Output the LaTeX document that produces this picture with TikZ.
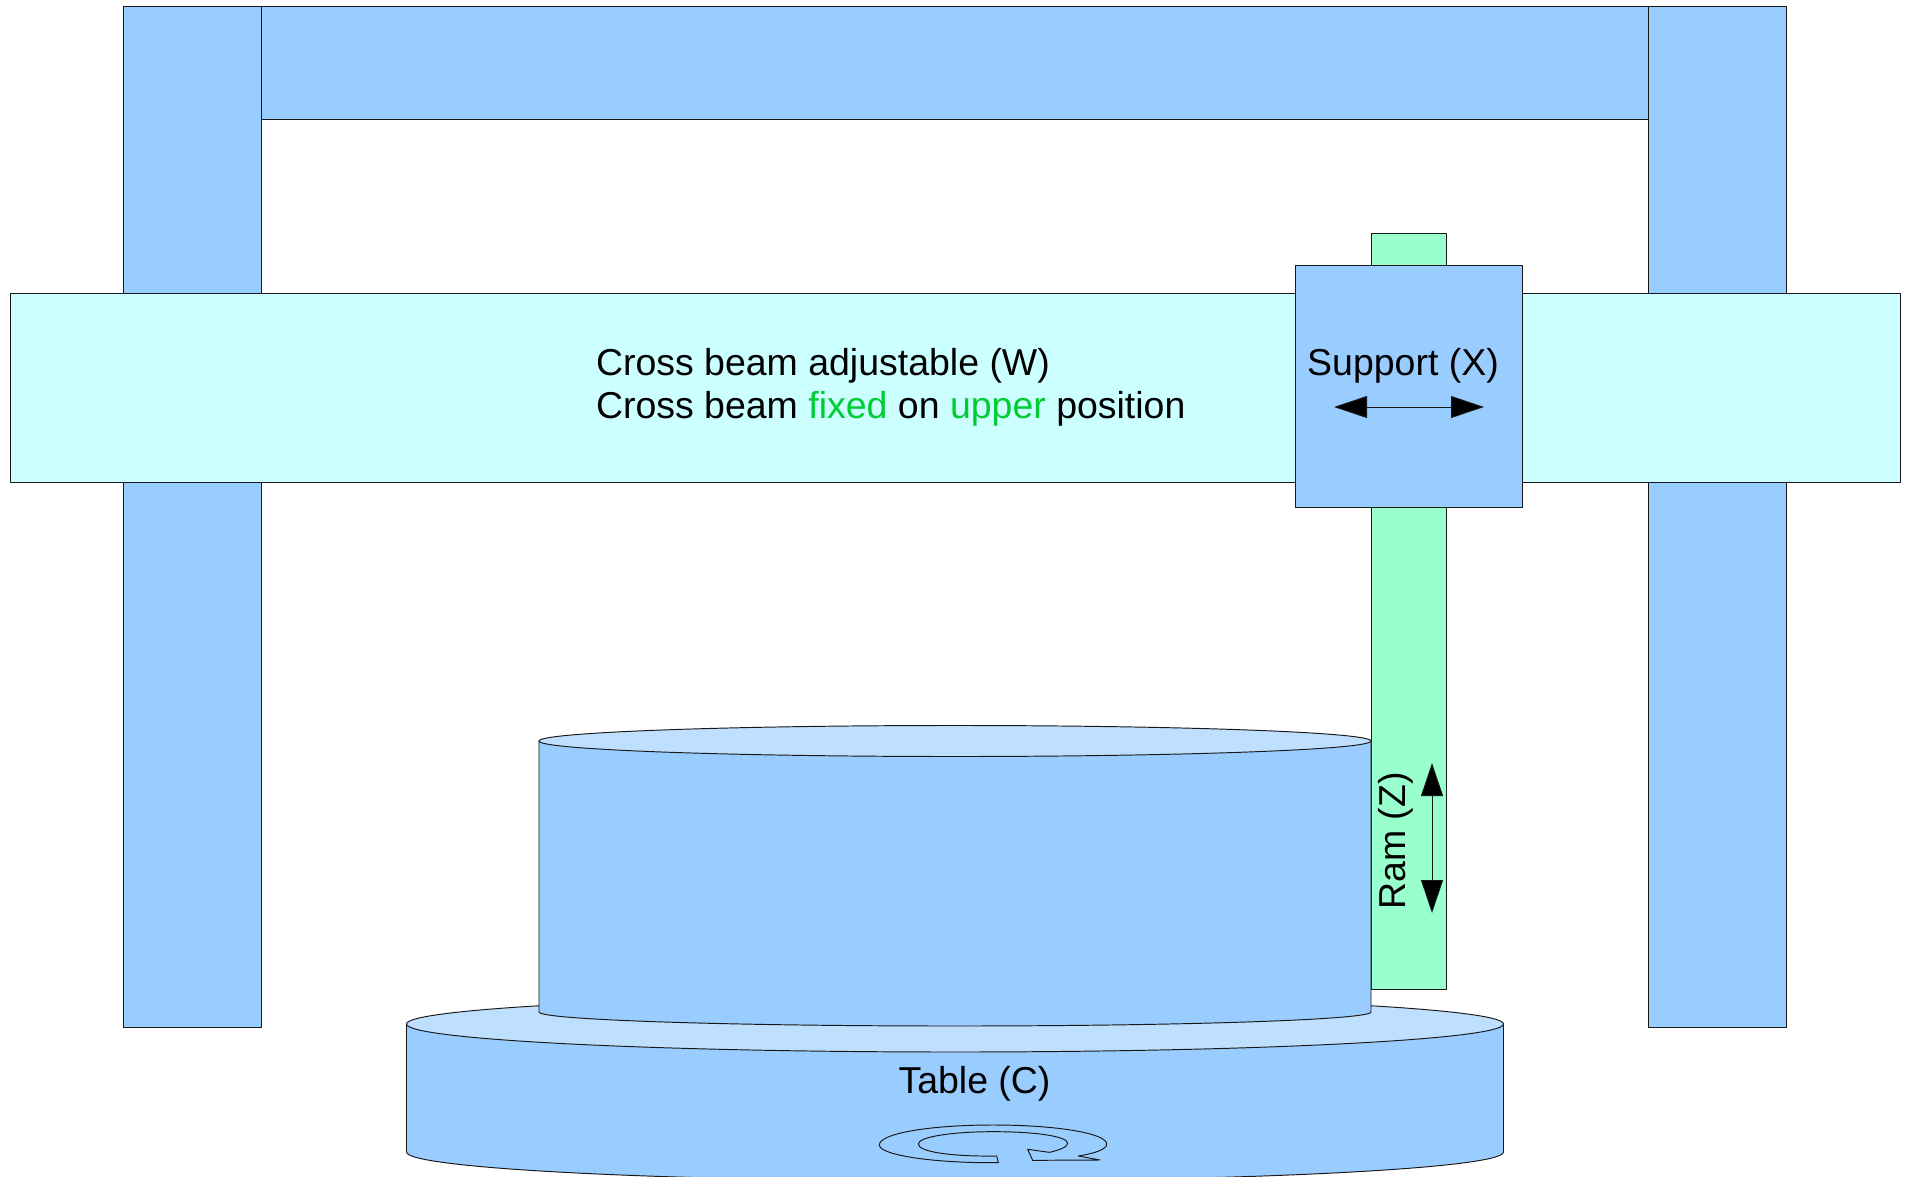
\documentclass[tikz,border=0pt]{standalone}
\usepackage{fontspec}
\setmainfont{Liberation Sans}
\usetikzlibrary{arrows.meta}
\definecolor{partblue}{HTML}{99CCFF}
\definecolor{lightblue}{HTML}{BFDFFF}
\definecolor{beamcyan}{HTML}{CCFFFF}
\definecolor{ramgreen}{HTML}{99FFCC}
\definecolor{wordgreen}{HTML}{00CC33}
\definecolor{edge}{HTML}{181818}
\tikzset{
  part/.style={draw=edge,line width=0.72pt,line join=round},
  label/.style={font=\fontsize{28.1}{32}\selectfont,text=black,inner sep=0pt,outer sep=0pt},
  motion/.style={draw=edge,line width=0.72pt,{Triangle[length=24.75pt,width=16.5pt,fill=black]}-{Triangle[length=24.75pt,width=16.5pt,fill=black]},shorten <=0pt,shorten >=0pt}
}
\begin{document}
\begin{tikzpicture}[x=0.75pt,y=-0.75pt]
\useasboundingbox (0,0) rectangle (1907,1177);
\clip (0,0) rectangle (1907,1177);
% columns and top beam
\draw[part,fill=partblue] (123,6) rectangle (261.5,1027.5);
\draw[part,fill=partblue] (1648,6) rectangle (1786.5,1027.5);
\draw[part,fill=partblue] (261.5,6) rectangle (1648,119);
% cross beam
\draw[part,fill=beamcyan] (10,293) rectangle (1900,482.5);
% ram and support
\draw[part,fill=ramgreen] (1371,233) rectangle (1446,989);
\draw[part,fill=partblue] (1295,265) rectangle (1522,507);
% table
\draw[part,fill=partblue] (406.5,1024) -- (406.5,1152)
  arc[start angle=180,end angle=0,x radius=548.5,y radius=29] -- (1503.5,1024) -- cycle;
\draw[part,fill=lightblue] (955,1024) ellipse[x radius=548.5,y radius=28];
% workpiece
\draw[part,fill=partblue] (539,741) -- (539,1012)
  arc[start angle=180,end angle=0,x radius=416,y radius=14] -- (1371,741) -- cycle;
\draw[part,fill=lightblue] (955,741) ellipse[x radius=416,y radius=15.5];
% rotation arrow
\begin{scope}[shift={(840,1100)},x=0.25pt,y=-0.25pt]
\draw[part] (475,188) -- (470,168)
  .. controls (330,170) and (235,155) .. (235,132)
  .. controls (235,110) and (340,95) .. (460,95)
  .. controls (580,95) and (683,108) .. (683,130)
  .. controls (683,140) and (660,150) .. (628,157)
  -- (563,148) -- (578,181) -- (780,180) -- (715,168)
  .. controls (765,160) and (800,148) .. (800,132)
  .. controls (800,100) and (650,75) .. (460,75)
  .. controls (270,75) and (118,100) .. (118,135)
  .. controls (118,165) and (280,190) .. (475,188) -- cycle;
\end{scope}
% motion arrows
\coordinate (supportL) at (1334,407);
\coordinate (supportR) at (1484,407);
\coordinate (ramT) at (1432,763);
\coordinate (ramB) at (1432,913);
\draw[motion] (supportL) -- (supportR);
\draw[motion] (ramT) -- (ramB);
% labels
\node[label,anchor=base west] (crossA) at (596,375) {Cross beam adjustable (W)};
\node[label,anchor=base west] (crossB) at (596,418) {Cross beam \textcolor{wordgreen}{fixed} on \textcolor{wordgreen}{upper} position};
\node[label,anchor=base] (support) at (1403,375) {Support (X)};
\node[label,anchor=base] (table) at (974.5,1093) {Table (C)};
\node[label,anchor=base,rotate=90] (ram) at (1405.5,841) {Ram (Z)};
\end{tikzpicture}
\end{document}
